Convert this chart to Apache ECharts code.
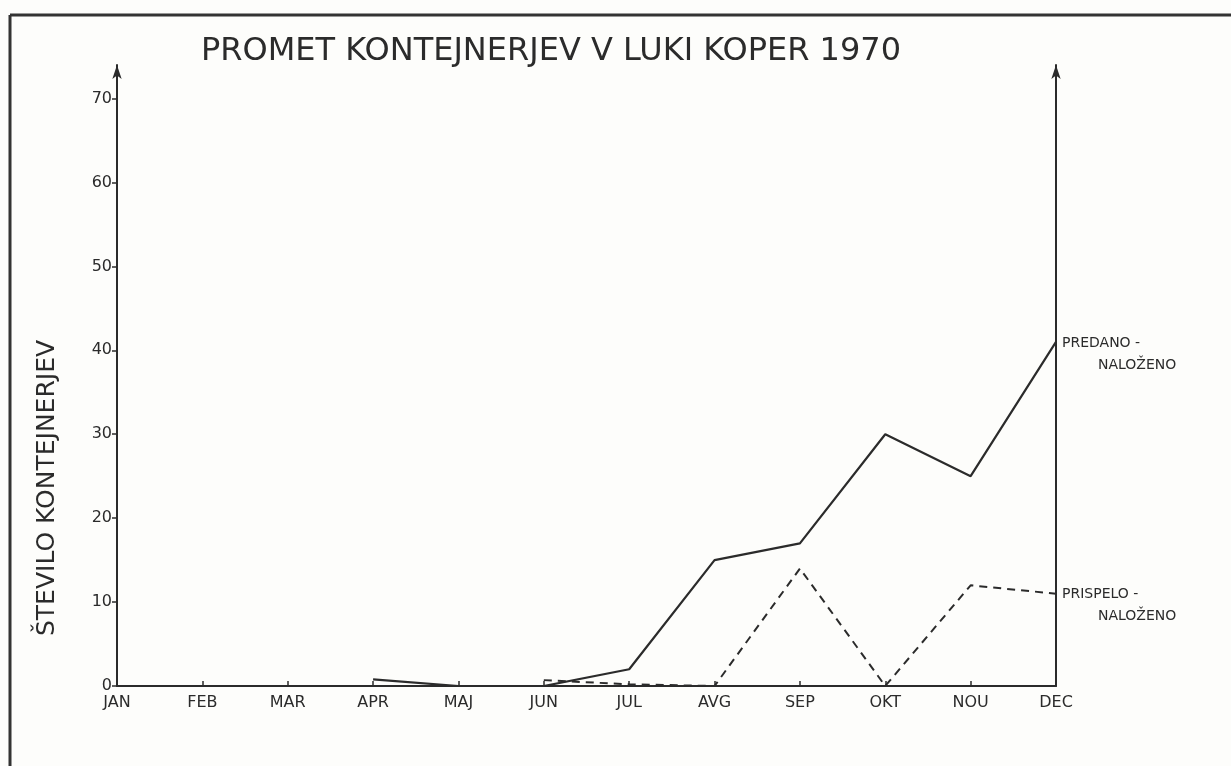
<!DOCTYPE html>
<html>
<head>
<meta charset="utf-8">
<script src="https://cdn.jsdelivr.net/npm/echarts@6/dist/echarts.min.js"></script>
<style>
  html, body { margin: 0; padding: 0; background: #fdfdfb; }
  #chart { width: 1231px; height: 766px; }
</style>
</head>
<body>
<div id="chart"></div>
<script>
// mesece in vrednosti odčitane iz grafa
const months = ['JAN', 'FEB', 'MAR', 'APR', 'MAJ', 'JUN', 'JUL', 'AVG', 'SEP', 'OKT', 'NOU', 'DEC'];
const predano = [null, null, null, 0.8, 0, 0, 2, 15, 17, 30, 25, 41];
const prispelo = [null, null, null, null, null, 0.7, 0.2, 0, 14, 0, 12, 11];
const yTicks = [0, 10, 20, 30, 40, 50, 60, 70];

const ink = '#2b2b2b';
const font = 'DejaVu Sans';

const endRich = {
    a: { fontFamily: font, fontSize: 14, color: ink, lineHeight: 22 },
    b: { fontFamily: font, fontSize: 14, color: ink, lineHeight: 22, padding: [0, 0, 0, 36] }
};

const options = {
    backgroundColor: '#fdfdfb',
    animation: false,
    title: {
        text: 'PROMET KONTEJNERJEV V LUKI KOPER 1970',
        left: 196,
        top: 31,
        textStyle: { fontFamily: font, fontSize: 32, fontWeight: 'normal', color: ink }
    },
    grid: { left: 117, right: 175, top: 65, bottom: 80 },
    xAxis: {
        type: 'category',
        data: months,
        boundaryGap: false,
        axisLine: { lineStyle: { color: ink, width: 2 } },
        axisTick: { show: true, length: 5, inside: true, alignWithLabel: true, lineStyle: { color: ink, width: 1.5 } },
        axisLabel: { fontFamily: font, fontSize: 16, color: ink, margin: 9, interval: 0 },
        splitLine: { show: false }
    },
    yAxis: [{
        type: 'value',
        min: 0,
        max: 74,
        interval: 10,
        axisLine: { show: true, symbol: ['none', 'arrow'], symbolSize: [7, 14], lineStyle: { color: ink, width: 2 } },
        axisTick: { show: true, length: 5, customValues: yTicks, lineStyle: { color: ink, width: 1.5 } },
        axisLabel: {
            fontFamily: font, fontSize: 16, color: ink, margin: 5,
            customValues: yTicks,
            formatter: v => (yTicks.includes(v) ? String(v) : '')
        },
        splitLine: { show: false }
    }, {
        type: 'value',
        position: 'right',
        min: 0,
        max: 74,
        interval: 10,
        axisLine: { show: true, symbol: ['none', 'arrow'], symbolSize: [7, 14], lineStyle: { color: ink, width: 2 } },
        axisTick: { show: false },
        axisLabel: { show: false },
        splitLine: { show: false }
    }],
    series: [{
        name: 'PREDANO - NALOŽENO',
        type: 'line',
        data: predano,
        showSymbol: false,
        lineStyle: { color: ink, width: 2.2 },
        endLabel: {
            show: true,
            distance: 6,
            offset: [0, 12],
            formatter: '{a|PREDANO -}\n{b|NALOŽENO}',
            rich: endRich
        }
    }, {
        name: 'PRISPELO - NALOŽENO',
        type: 'line',
        data: prispelo,
        showSymbol: false,
        lineStyle: { color: ink, width: 2, type: [8, 6] },
        endLabel: {
            show: true,
            distance: 6,
            offset: [0, 12],
            formatter: '{a|PRISPELO -}\n{b|NALOŽENO}',
            rich: endRich
        }
    }],
    graphic: [
        // okvir lista
        { type: 'line', shape: { x1: 10, y1: 15, x2: 1231, y2: 15 }, style: { stroke: '#333', lineWidth: 3 } },
        { type: 'line', shape: { x1: 10, y1: 15, x2: 10, y2: 766 }, style: { stroke: '#333', lineWidth: 3 } },
        {
            type: 'text',
            x: 47,
            y: 488,
            rotation: Math.PI / 2,
            style: {
                text: 'ŠTEVILO KONTEJNERJEV',
                fontFamily: font,
                fontSize: 25,
                fill: ink,
                align: 'center',
                verticalAlign: 'middle'
            }
        }
    ]
};

const E = echarts.init(document.getElementById('chart'));
window.onresize = function () {
    E.resize();
};
E.setOption(options);
</script>
</body>
</html>
